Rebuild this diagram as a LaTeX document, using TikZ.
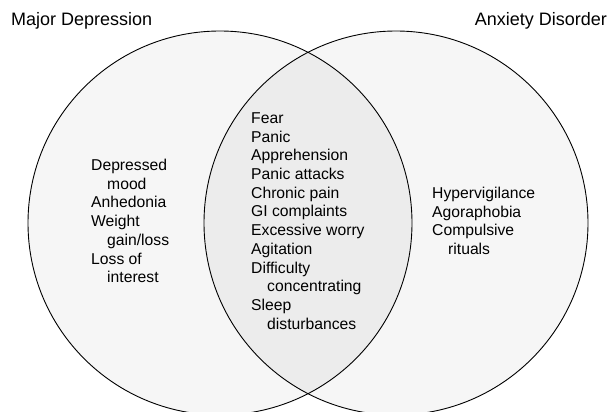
\documentclass[tikz,border=0pt]{standalone}
\usepackage{fontspec}
\setmainfont{Liberation Sans}
\definecolor{setfill}{HTML}{F6F6F6}
\definecolor{overlapfill}{HTML}{ECECEC}
\tikzset{
  heading/.style={inner sep=0pt, font=\fontsize{18}{21}\selectfont},
  symptoms/.style={anchor=west, align=left, inner sep=0pt, font=\fontsize{15.7}{18.7}\selectfont},
  setline/.style={line width=0.9pt, black},
}
\newcommand{\indnt}{\hspace*{16pt}}
\begin{document}
\begin{tikzpicture}[x=1pt,y=-1pt]

    % Page size, one unit is one pixel of the reference
    \useasboundingbox (0,0) rectangle (608,412);
    \clip (0,0) rectangle (608,412);

    % Define the centres of the two sets
    \coordinate (dep) at (220,223); % major depression
    \coordinate (anx) at (396,223); % anxiety disorder

    % Fill the sets and their overlap
    \fill[setfill] (dep) circle[radius=192pt];
    \fill[setfill] (anx) circle[radius=192pt];
    \begin{scope}
        \clip (dep) circle[radius=192pt];
        \fill[overlapfill] (anx) circle[radius=192pt];
    \end{scope}
    \draw[setline] (dep) circle[radius=192pt];
    \draw[setline] (anx) circle[radius=192pt];

    % Headings
    \node[heading, anchor=west] (deptitle) at (11,21) {Major Depression};
    \node[heading, anchor=east] (anxtitle) at (607,21) {Anxiety Disorder};

    % Symptom lists
    \node[symptoms] (deplist) at (91,221) {Depressed\\\indnt mood\\Anhedonia\\Weight\\\indnt gain/loss\\Loss of\\\indnt interest};
    \node[symptoms] (bothlist) at (251,221) {Fear\\Panic\\Apprehension\\Panic attacks\\Chronic pain\\GI complaints\\Excessive worry\\Agitation\\Difficulty\\\indnt concentrating\\Sleep\\\indnt disturbances};
    \node[symptoms] (anxlist) at (432,221) {Hypervigilance\\Agoraphobia\\Compulsive\\\indnt rituals};
\end{tikzpicture}
\end{document}
